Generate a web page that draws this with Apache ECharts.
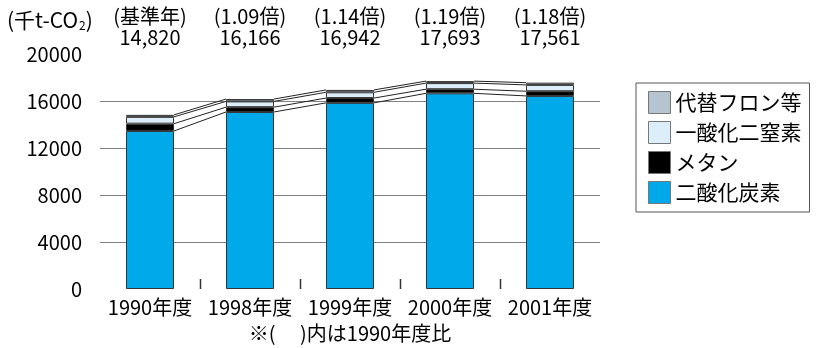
<!DOCTYPE html>
<html>
<head>
<meta charset="utf-8">
<script src="https://cdn.jsdelivr.net/npm/echarts@6/dist/echarts.min.js"></script>
<style>
  html, body { margin: 0; padding: 0; background: #fff; }
  #chart { width: 826px; height: 348px; }
</style>
</head>
<body>
<div id="chart"></div>
<script>
// 温室効果ガス排出量（千t-CO2）
const categories = ['1990年度', '1998年度', '1999年度', '2000年度', '2001年度'];
const co2 = [13450, 15066, 15842, 16653, 16431];   // 二酸化炭素
const ch4 = [620, 410, 410, 350, 400];             // メタン
const n2o = [580, 490, 490, 520, 540];             // 一酸化二窒素
const hfc = [170, 200, 200, 170, 190];             // 代替フロン等
const totals = [14820, 16166, 16942, 17693, 17561];
const ratioLabels = ['(基準年)', '(1.09倍)', '(1.14倍)', '(1.19倍)', '(1.18倍)'];
const yMin = 0, yMax = 20000, yStep = 4000;

const FONT = '"Noto Sans CJK JP", "Noto Sans", sans-serif';
const FS = 20;
const BAR_RATIO = 0.48;
const colors = { co2: '#00A9E9', ch4: '#000000', n2o: '#DDEEFB', hfc: '#B5C4CF' };

// stacked levels used for the connector lines between bars
const stacks = [co2, ch4, n2o, hfc];
const levels = [];
for (let k = 0; k < stacks.length; k++) {
  levels.push(categories.map((_, i) => {
    let s = 0;
    for (let j = 0; j <= k; j++) s += stacks[j][i];
    return s;
  }));
}
const connectorData = [];
for (let i = 0; i < categories.length - 1; i++) {
  levels.forEach(lv => connectorData.push([i, lv[i], i + 1, lv[i + 1]]));
}
const tickData = categories.slice(1).map((_, i) => [i + 1]);

const fmt = n => n.toLocaleString('en-US');

const barSeries = (name, data, color) => ({
  name, type: 'bar', stack: 'total', data,
  barWidth: (BAR_RATIO * 100) + '%',
  itemStyle: { color, borderColor: '#333', borderWidth: 1 },
  emphasis: { disabled: true },
  z: 3
});

const chart = echarts.init(document.getElementById('chart'), null, { renderer: 'canvas' });
chart.setOption({
  animation: false,
  textStyle: { fontFamily: FONT },
  title: {
    text: '(千t-CO{sub|2})',
    left: 2, top: 5,
    textStyle: {
      fontFamily: FONT, fontSize: 21, fontWeight: 'normal', color: '#000',
      rich: { sub: { fontFamily: FONT, fontSize: 12, verticalAlign: 'bottom', padding: [8, 0, 0, 1] } }
    }
  },
  grid: { left: 100, right: 226, top: 54, bottom: 52 },
  legend: {
    orient: 'vertical', left: 636, top: 83,
    data: ['代替フロン等', '一酸化二窒素', 'メタン', '二酸化炭素'],
    icon: 'rect', itemWidth: 22, itemHeight: 22, itemGap: 7,
    padding: [8, 8, 8, 12],
    borderColor: '#555', borderWidth: 1,
    textStyle: { fontFamily: FONT, fontSize: 21, color: '#000' },
    itemStyle: { borderColor: '#777', borderWidth: 1 },
    selectedMode: false
  },
  xAxis: [
    {
      type: 'category', data: categories, position: 'bottom',
      axisLine: { show: false }, axisTick: { show: false },
      axisLabel: { interval: 0, fontFamily: FONT, fontSize: FS, color: '#000', margin: 8 },
      name: '※(　 )内は1990年度比', nameLocation: 'middle', nameGap: 34,
      nameTextStyle: { fontFamily: FONT, fontSize: FS, color: '#000' }
    },
    {
      type: 'category', data: categories, position: 'top',
      axisLine: { show: false }, axisTick: { show: false },
      axisLabel: {
        interval: 0, fontFamily: FONT, fontSize: FS, color: '#000', lineHeight: 21, margin: 6,
        formatter: (v, i) => ratioLabels[i] + '\n' + fmt(totals[i])
      }
    }
  ],
  yAxis: {
    type: 'value', min: yMin, max: yMax, interval: yStep,
    axisLine: { show: false }, axisTick: { show: false },
    axisLabel: { fontFamily: FONT, fontSize: FS, color: '#000', margin: 18, formatter: v => String(v) },
    splitLine: { show: true, showMinLine: false, showMaxLine: false, lineStyle: { color: '#808080', width: 1 } }
  },
  series: [
    barSeries('二酸化炭素', co2, colors.co2),
    barSeries('メタン', ch4, colors.ch4),
    barSeries('一酸化二窒素', n2o, colors.n2o),
    barSeries('代替フロン等', hfc, colors.hfc),
    {
      // connector lines joining matching segment tops of neighbouring bars
      type: 'custom', name: 'connectors', data: connectorData, silent: true, z: 4,
      encode: { x: 0, y: 1 },
      renderItem: (params, api) => {
        const p1 = api.coord([api.value(0), api.value(1)]);
        const p2 = api.coord([api.value(2), api.value(3)]);
        const half = api.size([1, 0])[0] * BAR_RATIO / 2;
        return {
          type: 'line',
          shape: { x1: p1[0] + half, y1: p1[1], x2: p2[0] - half, y2: p2[1] },
          style: { stroke: '#222', lineWidth: 1 }
        };
      }
    },
    {
      // short ticks between categories on the baseline
      type: 'custom', name: 'ticks', data: tickData, silent: true, z: 4,
      encode: { x: 0 },
      renderItem: (params, api) => {
        const p = api.coord([api.value(0), 0]);
        const band = api.size([1, 0])[0];
        const x = Math.round(p[0] - band / 2) + 0.5;
        return {
          type: 'line',
          shape: { x1: x, y1: p[1], x2: x, y2: p[1] - 10 },
          style: { stroke: '#333', lineWidth: 1.5 }
        };
      }
    }
  ]
});
</script>
</body>
</html>
